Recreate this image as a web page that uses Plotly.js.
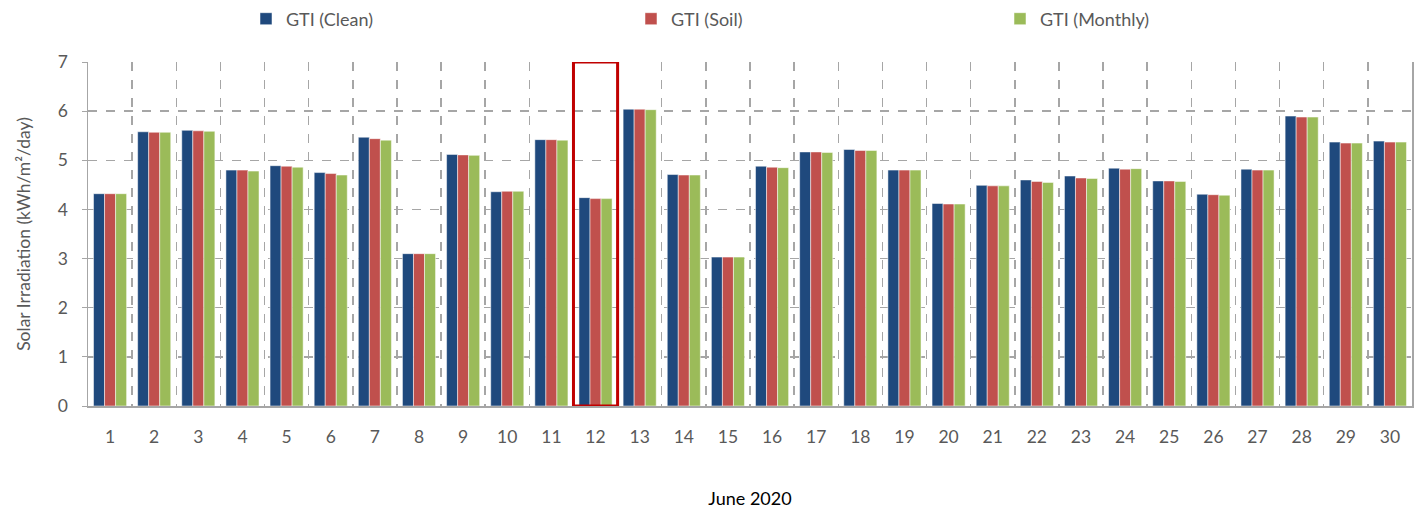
<!DOCTYPE html>
<html>
<head>
<meta charset="utf-8">
<script src="https://cdn.plot.ly/plotly-3.0.1.min.js"></script>
<style>html,body{margin:0;padding:0;background:#fff;}#chart{width:1424px;height:515px;}</style>
</head>
<body>
<div id="chart"></div>
<script>
const days = ['1','2','3','4','5','6','7','8','9','10','11','12','13','14','15','16','17','18','19','20','21','22','23','24','25','26','27','28','29','30'];
const gtiClean = [4.32,5.58,5.61,4.80,4.89,4.75,5.47,3.10,5.12,4.36,5.42,4.24,6.04,4.71,3.03,4.88,5.17,5.22,4.80,4.12,4.49,4.60,4.68,4.84,4.58,4.31,4.82,5.90,5.37,5.39];
const gtiSoil = [4.32,5.57,5.60,4.80,4.88,4.73,5.44,3.10,5.11,4.37,5.42,4.22,6.04,4.70,3.03,4.86,5.17,5.20,4.80,4.11,4.48,4.57,4.64,4.82,4.58,4.30,4.80,5.88,5.35,5.37];
const gtiMonthly = [4.32,5.57,5.59,4.78,4.86,4.70,5.41,3.10,5.10,4.37,5.41,4.22,6.03,4.70,3.03,4.85,5.16,5.20,4.80,4.11,4.48,4.55,4.63,4.83,4.57,4.29,4.80,5.88,5.35,5.37];
const seriesNames = ['GTI (Clean)','GTI (Soil)','GTI (Monthly)'];
const highlightDay = '12';

const font = 'Lato, "Open Sans", sans-serif';
const lineStyle = {color:'rgba(255,255,255,0.5)', width:1};
const traces = [
  {type:'bar', name:seriesNames[0], x:days, y:gtiClean, marker:{color:'#1F497D', line:lineStyle}, legend:'legend'},
  {type:'bar', name:seriesNames[1], x:days, y:gtiSoil, marker:{color:'#C0504D', line:lineStyle}, legend:'legend2'},
  {type:'bar', name:seriesNames[2], x:days, y:gtiMonthly, marker:{color:'#9BBB59', line:lineStyle}, legend:'legend3'}
];
const hi = days.indexOf(highlightDay);
const legendBase = {orientation:'h', yref:'container', yanchor:'middle', y:1-19/515, xref:'container', xanchor:'left', font:{family:font, size:18, color:'#595959'}, bgcolor:'rgba(0,0,0,0)'};
const layout = {
  width:1424, height:515,
  margin:{l:88, r:12, t:62, b:109, autoexpand:false},
  paper_bgcolor:'#fff', plot_bgcolor:'#fff',
  barmode:'group', bargap:0.25, bargroupgap:0,
  font:{family:font, color:'#595959'},
  showlegend:true,
  legend:Object.assign({}, legendBase, {x:246/1424}),
  legend2:Object.assign({}, legendBase, {x:631/1424}),
  legend3:Object.assign({}, legendBase, {x:1000/1424}),
  xaxis:{
    type:'category', tickson:'boundaries', showgrid:true, griddash:'dash', gridcolor:'#a6a6a6', gridwidth:1.5,
    showline:true, linecolor:'#a6a6a6', linewidth:1.5, ticks:'', ticklabelstandoff:14,
    tickfont:{family:font, size:17.5, color:'#595959'},
    title:{text:'June 2020', font:{family:font, size:18, color:'#000'}, standoff:47},
    automargin:false, zeroline:false
  },
  yaxis:{
    range:[0,7], dtick:1, showgrid:true, griddash:'dash', gridcolor:'#a6a6a6', gridwidth:1.5,
    showline:true, mirror:true, linecolor:'#a6a6a6', linewidth:1.5, ticks:'outside', ticklen:5, tickcolor:'#a6a6a6',
    ticklabelstandoff:10,
    tickfont:{family:font, size:17.5, color:'#595959'},
    title:{text:'Solar Irradiation (kWh/m²/day)', font:{family:font, size:17.5, color:'#595959'}, standoff:22},
    automargin:false, zeroline:false
  },
  shapes:[{type:'rect', xref:'x', yref:'y', x0:hi-0.5, x1:hi+0.5, y0:0, y1:7, line:{color:'#C00000', width:3}, fillcolor:'rgba(0,0,0,0)'}]
};
Plotly.newPlot('chart', traces, layout, {displayModeBar:false, staticPlot:true});
</script>
</body>
</html>
